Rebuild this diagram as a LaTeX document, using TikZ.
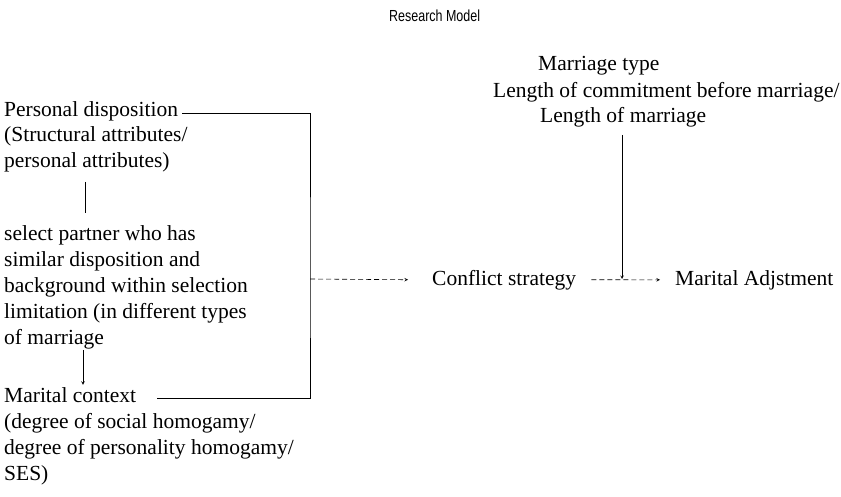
\documentclass[tikz,border=0pt]{standalone}
\usepackage{fontspec}
\setmainfont{Liberation Serif}
\newfontfamily\titlefont[FakeStretch=0.78]{Liberation Sans}
\usetikzlibrary{calc}
\usetikzlibrary{positioning}
\usetikzlibrary{arrows}
\tikzset{node distance=26pt, % line pitch of the text blocks
  every node/.style={align=left, inner sep=0pt, anchor=base west,
    font=\fontsize{21.5}{26}\selectfont},
  link/.style={draw, line width=0.6pt},
  flow/.style={draw, ->, >=stealth, line width=0.6pt},
  dflow/.style={flow, dash pattern=on 5pt off 3pt}}

\begin{document}
\begin{tikzpicture}[x=1pt,y=-1pt]
  \useasboundingbox (0,0) rectangle (841,496);

  \node [font=\titlefont\fontsize{16}{18}\selectfont] (title) at (389,21) {Research Model};

  \node (mtype) at (538,70) {Marriage type};
  \node (mcommit) at (493,97) {Length of commitment before marriage/};
  \node (mlen) at (540,122) {Length of marriage};

  % base of a multi-line node = its last line
  \node (pdisp) at (4,116) {Personal disposition};
  \node (pattr) at (4,167) {(Structural attributes/\\personal attributes)};
  \node (psel) at (4,344) {select partner who has\\similar disposition and\\background within selection\\limitation (in different types\\of marriage};
  \node (mctx) at (4,402) {Marital context};
  \node (mdeg) at (4,480) {(degree of social homogamy/\\degree of personality homogamy/\\SES)};

  \node (conf) at (432,285) {Conflict strategy};
  \node (adj) at (675,285) {Marital Adjstment};

  \coordinate (brk) at (310,279);
  \coordinate (jn) at (622,279);

  \draw [link] ([shift={(81pt,-10pt)}]pattr.south west) -- ([shift={(81pt,12pt)}]psel.north west);
  \draw [flow] ([shift={(79pt,-1pt)}]psel.south west) -- ([shift={(79pt,2pt)}]mctx.north west);

  \draw [link] ([xshift=4pt,yshift=3pt]pdisp.base east) -| (brk) |- ([xshift=21pt,yshift=4pt]mctx.base east);
  \draw [dflow] (brk) -- ([xshift=-24pt]conf.west);
  \draw [dflow] ([xshift=15pt]conf.east) -- ([xshift=-15pt]adj.west);
  \draw [flow] (mlen.south -| jn) ++(0,-8pt) -- (jn);

\end{tikzpicture}
\end{document}
